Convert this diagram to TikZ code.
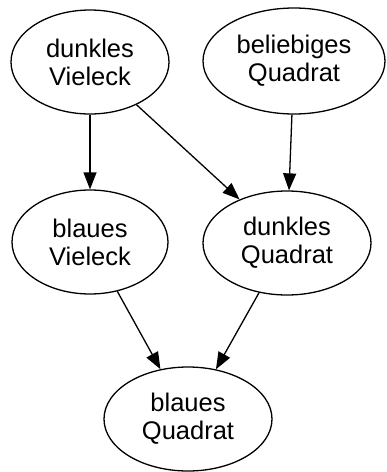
\documentclass[tikz,border=0pt]{standalone}
\usepackage{fontspec}
\setmainfont{Liberation Sans}
\usetikzlibrary{shapes.geometric,arrows.meta}
\begin{document}
\begin{tikzpicture}[x=1pt,y=-1pt,
  ell/.style={ellipse,draw,line width=1.3pt,inner sep=0pt,align=center,
    font=\fontsize{25.5}{28}\selectfont},
  edge/.style={line width=1.3pt,-{Triangle[length=17pt,width=13pt]}}]
\useasboundingbox (0,0) rectangle (387,472);
\node[ell,minimum width=158pt,minimum height=104pt] (dv) at (90,62) {dunkles\\Vieleck};
\node[ell,minimum width=182pt,minimum height=106pt] (bel) at (294,61) {beliebiges\\Quadrat};
\node[ell,minimum width=156pt,minimum height=104pt] (bv) at (90,242) {blaues\\Vieleck};
\node[ell,minimum width=168pt,minimum height=104pt] (dq) at (287,243) {dunkles\\Quadrat};
\node[ell,minimum width=168pt,minimum height=104pt] (bQ) at (188,419) {blaues\\Quadrat};
\draw[edge] (dv) -- (bv);
\draw[edge] (dv) -- (dq);
\draw[edge] (bel) -- (dq);
\draw[edge] (bv) -- (bQ);
\draw[edge] (dq) -- (bQ);
\end{tikzpicture}
\end{document}
